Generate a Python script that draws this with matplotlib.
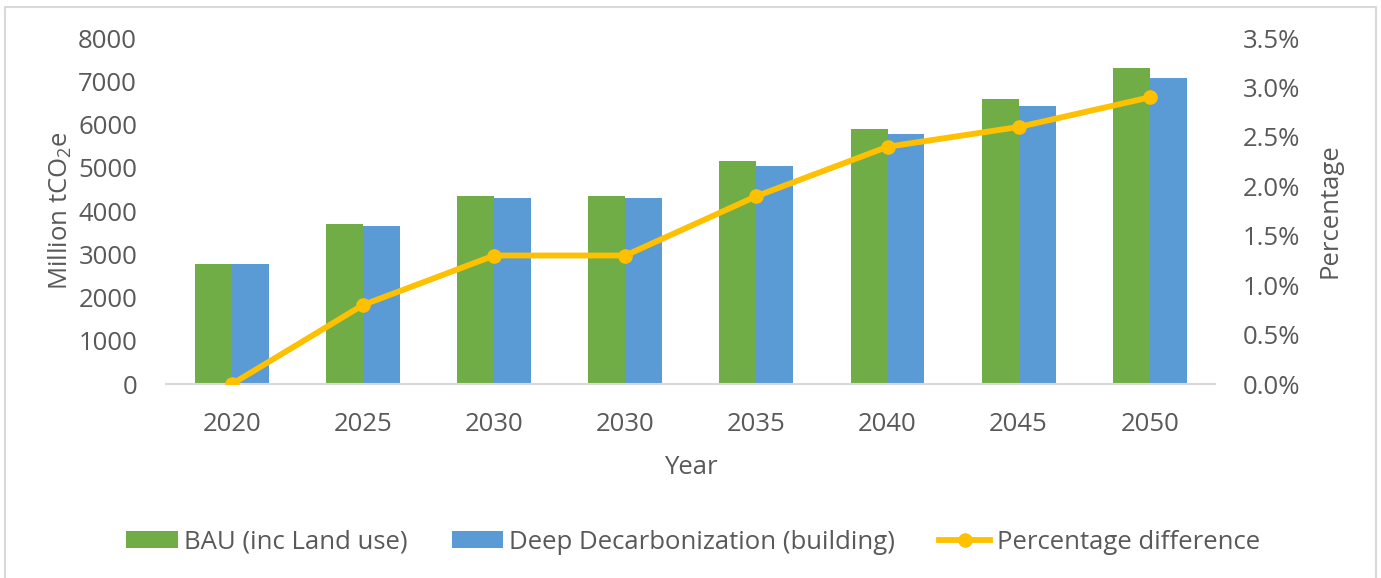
import matplotlib
matplotlib.use("Agg")
import matplotlib.pyplot as plt
import numpy as np
from matplotlib.patches import Rectangle
from matplotlib.ticker import FuncFormatter

# data
years = ["2020", "2025", "2030", "2030", "2035", "2040", "2045", "2050"]
bau = [2780, 3690, 4350, 4350, 5150, 5900, 6600, 7300]
deep_decarb = [2780, 3660, 4290, 4290, 5050, 5770, 6440, 7080]
pct_diff = [0.0, 0.8, 1.3, 1.3, 1.9, 2.4, 2.6, 2.9]

GREEN = "#70AD47"
BLUE = "#5B9BD5"
GOLD = "#FFC000"
TEXT = "#595959"
AXIS = "#D9D9D9"
FS = 18.5

plt.rcParams["font.family"] = ["Open Sans", "DejaVu Sans"]
plt.rcParams["mathtext.fontset"] = "custom"
plt.rcParams["mathtext.rm"] = "Open Sans"
plt.rcParams["text.color"] = TEXT
plt.rcParams["axes.labelcolor"] = TEXT
plt.rcParams["xtick.color"] = TEXT
plt.rcParams["ytick.color"] = TEXT

fig = plt.figure(figsize=(13.81, 5.78), dpi=100)
ax = fig.add_axes([0.1205, 0.3356, 0.7595, 0.5986])

x = np.arange(len(years))
w = 0.282
ax.bar(x - w / 2, bau, w, color=GREEN, label="BAU (inc Land use)")
ax.bar(x + w / 2, deep_decarb, w, color=BLUE, label="Deep Decarbonization (building)")

ax.set_xlim(-0.5, len(years) - 0.5)
ax.set_ylim(0, 8000)
ax.set_yticks(np.arange(0, 8001, 1000))
ax.set_xticks(x)
ax.set_xticklabels(years)
ax.tick_params(axis="both", length=0, labelsize=FS)
ax.tick_params(axis="y", pad=21)
ax.tick_params(axis="x", pad=20)
for s in ["top", "right", "left"]:
    ax.spines[s].set_visible(False)
ax.spines["bottom"].set_color(AXIS)
ax.spines["bottom"].set_linewidth(1.5)
ax.set_xlabel("Year", fontsize=FS, labelpad=13)
ax.set_ylabel("Million tCO$\\mathregular{_2}$e", fontsize=FS)
ax.yaxis.set_label_coords(-0.088, 0.5)

ax2 = ax.twinx()
ax2.plot(x, pct_diff, color=GOLD, lw=4.2, marker="o", markersize=9.5,
         label="Percentage difference")
ax2.set_ylim(0, 3.5)
ax2.set_yticks(np.arange(0, 3.51, 0.5))
ax2.yaxis.set_major_formatter(FuncFormatter(lambda v, p: f"{v:.1f}%"))
ax2.tick_params(axis="y", length=0, labelsize=FS, pad=20)
for s in ["top", "right", "left", "bottom"]:
    ax2.spines[s].set_visible(False)
ax2.set_ylabel("Percentage", fontsize=FS)
ax2.yaxis.set_label_coords(1.097, 0.5)

h1, l1 = ax.get_legend_handles_labels()
h2, l2 = ax2.get_legend_handles_labels()
fig.legend(h1 + h2, l1 + l2, loc="center", bbox_to_anchor=(0.502, 0.062),
           ncol=3, frameon=False, fontsize=FS, handlelength=2.0,
           handleheight=0.65, handletextpad=0.25, columnspacing=1.7)

# chart area border
fig.patches.append(Rectangle((0.0036, -0.05), 0.9928, 1.038,
                             transform=fig.transFigure, fill=False,
                             edgecolor=AXIS, lw=1.5))

fig.savefig("out.png", dpi=100)
